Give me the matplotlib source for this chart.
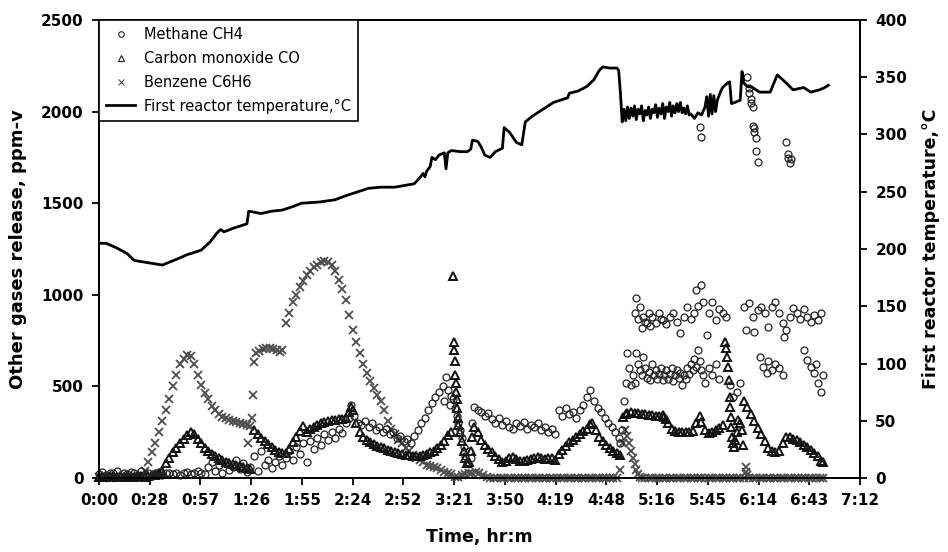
import matplotlib
matplotlib.use("Agg")
import matplotlib.pyplot as plt
from matplotlib.lines import Line2D
import numpy as np

# time in minutes from start, gases in ppm-v (left axis), temperature in degC (right axis)
tick_labels = ["0:00", "0:28", "0:57", "1:26", "1:55", "2:24", "2:52", "3:21",
               "3:50", "4:19", "4:48", "5:16", "5:45", "6:14", "6:43", "7:12"]

temp_pts = [(0, 205), (4, 205), (10, 201), (16, 196), (20, 190), (28, 188), (36, 186), (44, 191),
            (50, 195), (58, 199), (63, 206), (67, 214), (69, 217), (71, 215), (76, 218), (82, 221),
            (84, 222), (85, 233), (92, 231), (98, 233), (104, 234), (110, 237), (115, 240), (125, 241),
            (134, 243), (141, 247), (147, 250), (153, 253), (160, 254), (168, 254), (179, 257), (182, 262),
            (184, 266), (185, 263), (186, 268), (188, 272), (189, 280), (191, 278), (193, 282), (196, 284),
            (197, 270), (198, 284), (200, 286), (205, 285), (209, 285), (211, 287), (212, 295), (215, 294),
            (217, 289), (219, 282), (222, 280), (225, 285), (229, 288), (230, 306), (233, 302), (237, 293),
            (240, 291), (242, 311), (246, 316), (250, 320), (254, 324), (258, 328), (262, 330), (266, 332),
            (267, 336), (272, 338), (277, 342), (281, 348), (284, 356), (286, 359), (290, 358), (294, 358),
            (295, 356), (296, 336), (297, 311), (298, 322), (299, 312), (300, 324), (301, 314), (302, 323),
            (303, 316), (304, 325), (305, 313), (306, 322), (307, 318), (308, 325), (309, 312), (310, 321),
            (311, 317), (312, 324), (313, 314), (314, 322), (315, 319), (316, 326), (317, 315), (318, 323),
            (319, 318), (320, 327), (321, 314), (322, 324), (323, 320), (324, 328), (325, 316), (326, 325),
            (327, 319), (328, 327), (329, 320), (330, 328), (331, 319), (332, 323), (333, 318), (334, 325),
            (335, 317), (336, 318), (338, 314), (340, 319), (342, 317), (344, 324), (345, 333), (346, 316),
            (347, 335), (348, 318), (349, 334), (350, 320), (351, 330), (353, 338), (354, 341), (356, 344),
            (358, 346), (359, 327), (361, 328), (364, 330), (365, 355), (366, 345), (368, 342), (371, 341),
            (375, 337), (381, 337), (385, 352), (388, 348), (394, 339), (400, 341), (404, 337), (409, 339),
            (412, 341), (414, 343)]

methane_pts = [(0, 20), (2, 35), (4, 15), (6, 30), (8, 25), (10, 40), (12, 10), (14, 30), (16, 20), (18, 35),
               (20, 28), (22, 15), (24, 38), (26, 22), (28, 30), (30, 12), (32, 25), (34, 35), (36, 18), (38, 30),
               (40, 25), (42, 20), (44, 30), (46, 15), (48, 28), (50, 35), (52, 22), (54, 30), (56, 40), (58, 25),
               (60, 20), (62, 60), (64, 85), (66, 40), (68, 70), (70, 30), (72, 90), (74, 45), (76, 60), (78, 100),
               (80, 50), (82, 80), (84, 35), (86, 60), (88, 120), (90, 40), (92, 150), (94, 70), (96, 100), (98, 55),
               (100, 90), (102, 120), (104, 70), (106, 110), (108, 150), (110, 100), (112, 170), (114, 130),
               (116, 190), (118, 90), (120, 200), (122, 160), (124, 220), (126, 180), (128, 240), (130, 210),
               (132, 250), (134, 220), (136, 270), (138, 245), (140, 300), (142, 330), (143, 398), (145, 340),
               (147, 300), (149, 290), (151, 310), (153, 280), (155, 300), (157, 260), (159, 280), (161, 250),
               (163, 265), (165, 240), (167, 250), (169, 220), (171, 230), (173, 200), (175, 215), (177, 190),
               (179, 230), (181, 260), (183, 300), (185, 330), (187, 370), (189, 410), (191, 440), (193, 470),
               (195, 500), (196, 420), (197, 551), (198, 480), (199, 400), (200, 450), (201, 430), (202, 380),
               (203, 340), (204, 300), (205, 260), (206, 220), (207, 170), (208, 120), (209, 90), (210, 150),
               (211, 110), (212, 300), (213, 390), (215, 370), (217, 360), (219, 340), (221, 355), (223, 320),
               (225, 300), (227, 330), (229, 290), (231, 310), (233, 280), (235, 265), (237, 300), (239, 285),
               (241, 305), (243, 270), (245, 290), (247, 280), (249, 300), (251, 260), (253, 280), (255, 250),
               (257, 270), (259, 240), (261, 370), (263, 340), (265, 380), (267, 350), (269, 360), (271, 330),
               (273, 370), (275, 400), (277, 440), (279, 480), (281, 420), (283, 380), (285, 360), (287, 330),
               (289, 300), (291, 280), (293, 250), (295, 220), (296, 190), (297, 260), (298, 420), (299, 520),
               (300, 680),
               # lower band after 5:00
               (301, 600), (302, 508), (303, 560), (304, 519), (305, 682), (306, 620), (307, 590), (308, 560),
               (309, 660), (310, 600), (311, 545), (312, 580), (313, 535), (314, 620), (315, 560), (316, 590),
               (317, 540), (318, 570), (319, 600), (320, 535), (321, 560), (322, 590), (323, 540), (324, 570),
               (325, 600), (326, 530), (327, 560), (328, 590), (329, 545), (330, 575), (331, 508), (332, 560),
               (333, 540), (334, 600), (335, 570), (336, 620), (337, 590), (338, 650), (339, 606), (340, 699),
               (341, 640), (342, 590), (343, 560), (344, 519), (346, 600), (348, 560), (350, 620), (352, 540),
               # upper band after 5:00
               (304, 900), (305, 982), (306, 870), (307, 933), (308, 820), (309, 880), (310, 850), (311, 845),
               (312, 900), (313, 830), (314, 879), (316, 846), (318, 900), (319, 870), (320, 862), (322, 840),
               (324, 880), (326, 900), (328, 850), (330, 791), (332, 880), (334, 933), (336, 870), (338, 900),
               (339, 1026), (340, 940), (342, 1054), (343, 960), (345, 780), (346, 900), (348, 960), (350, 862),
               (352, 920), (354, 900), (356, 880),
               (358, 508), (360, 442), (362, 470), (364, 520),
               (366, 933), (367, 808), (369, 955), (371, 879), (372, 797), (374, 917), (376, 933), (378, 900),
               (380, 824), (382, 933), (384, 960), (386, 900), (388, 846), (389, 770), (390, 808), (392, 880),
               (394, 930), (396, 900), (398, 870), (400, 920), (402, 880), (404, 850), (406, 890), (408, 860),
               (410, 900),
               (375, 660), (377, 606), (379, 573), (380, 640), (382, 590), (384, 620), (386, 600), (388, 560),
               (400, 699), (402, 644), (404, 606), (406, 573), (407, 620), (408, 519), (410, 470), (411, 560),
               # high readings near the top
               (341, 1916), (342, 1861), (368, 2189), (369, 2129), (369, 2102), (370, 2069), (370, 2047),
               (371, 2025), (371, 1922), (372, 1911), (372, 1889), (373, 1856), (373, 1785), (374, 1725),
               (390, 1834), (391, 1769), (391, 1747), (392, 1720), (393, 1741)]

co_pts = [(0, 8), (2, 10), (4, 6), (6, 9), (8, 12), (10, 7), (12, 10), (14, 8), (16, 11), (18, 9), (20, 6),
          (22, 10), (24, 12), (26, 8), (28, 10), (30, 14), (32, 18), (34, 25), (36, 40), (38, 80), (40, 110),
          (42, 140), (44, 165), (46, 190), (48, 215), (50, 235), (52, 250), (54, 240), (56, 215), (58, 190),
          (60, 165), (62, 145), (64, 130), (66, 118), (68, 108), (70, 98), (72, 90), (74, 84), (76, 78), (78, 72),
          (80, 66), (82, 60), (84, 56), (86, 52), (88, 262), (90, 240), (92, 220), (94, 200), (96, 185), (98, 170),
          (100, 155), (102, 142), (104, 135), (106, 135), (108, 160), (110, 195), (112, 225), (114, 255),
          (116, 285), (118, 250), (120, 265), (122, 280), (124, 292), (126, 300), (128, 308), (130, 312),
          (132, 316), (134, 318), (136, 320), (138, 322), (140, 328), (142, 360), (143, 385), (144, 370),
          (146, 300), (148, 250), (150, 225), (152, 210), (154, 196), (156, 186), (158, 176), (160, 169),
          (162, 162), (164, 155), (166, 148), (168, 142), (170, 137), (172, 132), (174, 128), (176, 124),
          (178, 120), (180, 118), (182, 118), (184, 125), (186, 132), (188, 140), (190, 150), (192, 165),
          (194, 180), (196, 200), (198, 235), (200, 250), (201, 1100), (201.5, 742), (201.7, 700), (202, 640),
          (202.2, 560), (202.4, 520), (202.6, 470), (203, 430), (203.3, 380), (203.6, 330), (204, 290),
          (205, 250), (206, 200), (207, 150), (208, 110), (209, 80), (210, 90), (211, 150), (212, 224),
          (213, 280), (215, 250), (217, 210), (219, 180), (221, 160), (223, 140), (225, 120), (227, 105),
          (229, 90), (231, 95), (233, 110), (235, 115), (237, 105), (239, 95), (241, 95), (243, 100), (245, 105),
          (247, 110), (249, 115), (251, 110), (253, 105), (255, 110), (257, 108), (259, 100), (261, 130),
          (263, 155), (265, 175), (267, 195), (269, 210), (271, 225), (273, 240), (275, 255), (277, 270),
          (279, 295), (280, 300), (282, 260), (284, 225), (286, 200), (288, 180), (290, 165), (292, 150),
          (294, 135), (296, 125), (297.5, 333), (299, 350), (300, 355), (302, 358), (304, 356), (306, 354),
          (308, 352), (310, 350), (312, 345), (314, 342), (316, 340), (318, 338), (320, 345), (321, 335),
          (322, 320), (323, 300), (325, 270), (327, 255), (329, 252), (331, 250), (333, 250), (335, 252),
          (337, 258), (339, 300), (341, 340), (342, 305), (344, 260), (346, 245), (348, 250), (350, 262),
          (352, 275), (354, 290),
          (355.5, 742), (356, 710), (356.5, 660), (357, 606), (357.5, 535), (358, 442), (358.3, 388),
          (358.7, 333), (359, 278), (359.5, 224), (360, 191), (360.5, 169), (361, 207), (362, 251), (363, 317),
          (364, 300), (365, 262), (365.5, 180),
          (366, 420), (368, 390), (370, 350), (372, 310), (374, 275), (376, 240), (378, 200), (380, 165),
          (382, 148), (384, 140), (386, 145), (388, 190), (390, 222), (392, 222), (394, 212), (396, 205),
          (398, 195), (400, 182), (402, 170), (404, 155), (406, 135), (408, 118), (410, 95), (411, 85)]

benzene_pts = [(0, 5), (2, 3), (4, 6), (6, 2), (8, 4), (10, 7), (12, 3), (14, 5), (16, 4), (18, 6), (20, 3),
               (22, 8), (24, 15), (26, 40), (28, 90), (30, 140), (32, 190), (34, 250), (36, 310), (38, 370),
               (40, 430), (42, 500), (44, 560), (46, 620), (48, 650), (50, 670), (52, 665), (54, 620), (56, 560),
               (58, 510), (60, 465), (62, 430), (64, 395), (66, 370), (68, 350), (70, 335), (72, 325), (74, 315),
               (76, 310), (78, 305), (80, 300), (82, 295), (84, 290), (86, 285), (84.5, 191), (87, 330),
               (87.6, 453), (88.2, 633), (89, 680), (91, 695), (93, 705), (95, 710), (97, 712), (99, 705),
               (101, 700), (103, 688), (104, 700), (106, 846), (108, 900), (110, 960), (112, 1000), (114, 1040),
               (116, 1075), (118, 1110), (120, 1130), (122, 1150), (124, 1165), (126, 1178), (128, 1182),
               (130, 1178), (132, 1160), (134, 1130), (136, 1080), (138, 1030), (140, 970), (142, 890),
               (144, 810), (146, 740), (148, 680), (150, 625), (152, 575), (154, 530), (156, 490), (158, 455),
               (160, 420), (162, 370), (164, 310), (166, 270), (168, 240), (170, 210), (172, 190), (174, 165),
               (176, 145), (178, 125), (180, 110), (182, 98), (184, 85), (186, 72), (188, 65), (190, 60),
               (192, 55), (194, 45), (196, 35), (198, 30), (200, 20), (202, 5), (204, 8), (206, 15), (208, 20),
               (210, 25), (212, 30), (214, 33), (216, 28), (218, 15), (220, 5),
               (222, 0), (224, 0), (226, 0), (228, 0), (230, 0), (232, 0), (234, 0), (236, 0), (238, 0), (240, 0),
               (242, 0), (244, 0), (246, 0), (248, 0), (250, 0), (252, 0), (254, 0), (256, 0), (258, 0), (260, 0),
               (262, 0), (264, 0), (266, 0), (268, 0), (270, 0), (272, 0), (274, 0), (276, 0), (278, 0), (280, 0),
               (282, 0), (284, 0), (286, 0), (288, 0), (290, 0), (292, 0), (294, 0),
               (296, 44), (297.5, 191), (298.5, 262), (300, 230), (301, 190), (302, 150), (303, 110), (304, 75),
               (305, 45), (306, 20), (307, 5),
               (308, 0), (310, 0), (312, 0), (314, 0), (316, 0), (318, 0), (320, 0), (322, 0), (324, 0), (326, 0),
               (328, 0), (330, 0), (332, 0), (334, 0), (336, 0), (338, 0), (340, 0), (342, 0), (344, 0), (346, 0),
               (348, 0), (350, 0), (352, 0), (354, 0), (356, 0), (358, 0), (360, 0), (362, 0), (364, 0), (366, 0),
               (367, 60), (367.4, 35), (367.8, 15),
               (369, 0), (371, 0), (373, 0), (375, 0), (377, 0), (379, 0), (381, 0), (383, 0), (385, 0), (387, 0),
               (389, 0), (391, 0), (393, 0), (395, 0), (397, 0), (399, 0), (401, 0), (403, 0), (405, 0), (407, 0),
               (409, 0), (411, 0)]

plt.rcParams['font.family'] = 'DejaVu Sans'
plt.rcParams['font.weight'] = 'bold'
plt.rcParams['axes.linewidth'] = 1.3

fig = plt.figure(figsize=(9.48, 5.52), dpi=100)
ax = fig.add_axes([0.1044, 0.134, 0.8028, 0.8298])
ax2 = ax.twinx()

mt, mv = zip(*methane_pts)
ct, cv = zip(*co_pts)
bt, bv = zip(*benzene_pts)
tt, tv = zip(*temp_pts)

# dense marker bands, like the Excel original
ax.plot(bt, bv, ls='none', marker='x', ms=5.5, mew=1.3, color='#4d4d4d', clip_on=False)
ax.plot(ct, cv, ls='none', marker='^', ms=5.5, mfc='none', mec='#111111', mew=1.4, clip_on=False)
ax.plot(mt, mv, ls='none', marker='o', ms=5.0, mfc='none', mec='#222222', mew=0.9, clip_on=False)
ax2.plot(tt, tv, color='black', lw=2.0)

ax.set_xlim(0, 432)
ax.set_ylim(0, 2500)
ax2.set_ylim(0, 400)
ax.set_xticks(np.arange(16) * 28.8)
ax.set_xticklabels(tick_labels)
ax.set_yticks(np.arange(0, 2501, 500))
ax2.set_yticks(np.arange(0, 401, 50))

for a in (ax, ax2):
    a.tick_params(direction='out', length=5, width=1.3, labelsize=11, pad=6)

ax.set_ylabel("Other gases release, ppm-v", fontsize=13, fontweight='bold')
ax2.set_ylabel("First reactor temperature,°C", fontsize=12.5, fontweight='bold')
ax.set_xlabel("Time, hr:m", fontsize=12.5, fontweight='bold')
ax.yaxis.set_label_coords(-0.094, 0.5)
ax2.yaxis.set_label_coords(1.082, 0.5)
ax.xaxis.set_label_coords(0.5, -0.109)

handles = [
    Line2D([], [], ls='none', marker='o', ms=4, mfc='none', mec='#222222', mew=0.8),
    Line2D([], [], ls='none', marker='^', ms=4, mfc='none', mec='#222222', mew=0.8),
    Line2D([], [], ls='none', marker='x', ms=4, color='#555555', mew=0.8),
    Line2D([], [], color='black', lw=2.0),
]
names = ["Methane CH4", "Carbon monoxide CO", "Benzene C6H6", "First reactor temperature,°C"]
leg = ax2.legend(handles, names, loc='upper left', bbox_to_anchor=(0, 1), borderaxespad=0,
                 prop={'size': 10.5, 'weight': 'normal'}, frameon=True, fancybox=False,
                 edgecolor='black', framealpha=1, borderpad=0.5, labelspacing=0.6,
                 handlelength=2.0, handletextpad=0.6)
leg.get_frame().set_linewidth(1.2)

fig.savefig("out.png", dpi=100)
